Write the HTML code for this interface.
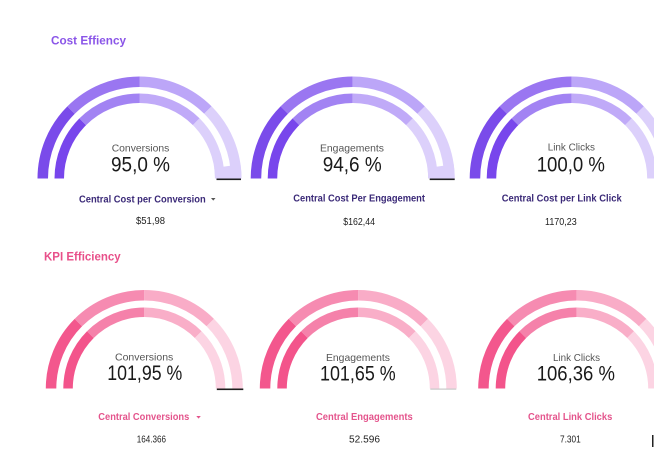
<!DOCTYPE html>
<html>
<head>
<meta charset="utf-8">
<style>
  html,body{margin:0;padding:0;background:#fff;}
  svg{display:block;}
  text{font-family:"Liberation Sans", Arial, sans-serif;}
</style>
</head>
<body>
<svg width="654" height="469" viewBox="0 0 654 469" xmlns="http://www.w3.org/2000/svg">
  <defs>
    <!-- purple outer rm=96.75 -->
    <path id="po1" d="M -96.75 0 A 96.75 96.75 0 0 1 -68.41 -68.41" fill="none"/>
    <path id="po2" d="M -68.41 -68.41 A 96.75 96.75 0 0 1 0 -96.75" fill="none"/>
    <path id="po3" d="M 0 -96.75 A 96.75 96.75 0 0 1 68.41 -68.41" fill="none"/>
    <path id="po4" d="M 68.41 -68.41 A 96.75 96.75 0 0 1 96.75 0" fill="none"/>
    <!-- purple inner rm=80.25 -->
    <path id="pi1" d="M -80.25 0 A 80.25 80.25 0 0 1 -56.75 -56.75" fill="none"/>
    <path id="pi2" d="M -56.75 -56.75 A 80.25 80.25 0 0 1 0 -80.25" fill="none"/>
    <path id="pi3" d="M 0 -80.25 A 80.25 80.25 0 0 1 56.75 -56.75" fill="none"/>
    <path id="pi4" d="M 56.75 -56.75 A 80.25 80.25 0 0 1 80.25 0" fill="none"/>
    <!-- pink outer rm=93.25 -->
    <path id="ko1" d="M -93.25 0 A 93.25 93.25 0 0 1 -65.94 -65.94" fill="none"/>
    <path id="ko2" d="M -65.94 -65.94 A 93.25 93.25 0 0 1 0 -93.25" fill="none"/>
    <path id="ko3" d="M 0 -93.25 A 93.25 93.25 0 0 1 65.94 -65.94" fill="none"/>
    <path id="ko4" d="M 65.94 -65.94 A 93.25 93.25 0 0 1 93.25 0" fill="none"/>
    <!-- pink inner rm=76.25 -->
    <path id="ki1" d="M -76.25 0 A 76.25 76.25 0 0 1 -53.92 -53.92" fill="none"/>
    <path id="ki2" d="M -53.92 -53.92 A 76.25 76.25 0 0 1 0 -76.25" fill="none"/>
    <path id="ki3" d="M 0 -76.25 A 76.25 76.25 0 0 1 53.92 -53.92" fill="none"/>
    <path id="ki4" d="M 53.92 -53.92 A 76.25 76.25 0 0 1 76.25 0" fill="none"/>

    <g id="purpleGauge">
      <use href="#po1" stroke="#7a4bea" stroke-width="10.5"/>
      <use href="#po2" stroke="#9a76f1" stroke-width="10.5"/>
      <use href="#po3" stroke="#bca6f8" stroke-width="10.5"/>
      <use href="#po4" stroke="#dcd0fb" stroke-width="10.5"/>
      <use href="#pi1" stroke="#7846ec" stroke-width="9.5"/>
      <use href="#pi2" stroke="#a283f3" stroke-width="9.5"/>
      <use href="#pi3" stroke="#c0aaf8" stroke-width="9.5"/>
      <use href="#pi4" stroke="#dcd0fb" stroke-width="9.5"/>
    </g>
    <g id="pinkGauge">
      <use href="#ko1" stroke="#f3578d" stroke-width="10.5"/>
      <use href="#ko2" stroke="#f68bb1" stroke-width="10.5"/>
      <use href="#ko3" stroke="#f9acc7" stroke-width="10.5"/>
      <use href="#ko4" stroke="#fcd4e3" stroke-width="10.5"/>
      <use href="#ki1" stroke="#f3548b" stroke-width="9.5"/>
      <use href="#ki2" stroke="#f581aa" stroke-width="9.5"/>
      <use href="#ki3" stroke="#f9aec8" stroke-width="9.5"/>
      <use href="#ki4" stroke="#fcd4e3" stroke-width="9.5"/>
    </g>
    <path id="pfill" d="M 75.5 0 L 102 0 A 102 102 0 0 0 101.0 -14.2 L 74.77 -10.51 A 75.5 75.5 0 0 1 75.5 0 Z"/>
  </defs>

  <!-- ===== Cost Effiency ===== -->
  <text x="51" y="44.5" font-size="12" font-weight="bold" fill="#8a55e8" textLength="75" lengthAdjust="spacingAndGlyphs">Cost Effiency</text>

  <!-- Gauge 1 purple -->
  <g transform="translate(139.5,178.5)">
    <use href="#purpleGauge"/>
    <use href="#pfill" fill="#dcd0fb"/>
    <rect x="77" y="0" width="24.5" height="1.6" fill="#1e1e1e"/>
  </g>
  <text x="111.7" y="151.7" font-size="10.5" fill="#555" textLength="57.6" lengthAdjust="spacingAndGlyphs">Conversions</text>
  <text x="111" y="171.7" font-size="21" fill="#1a1a1a" textLength="59" lengthAdjust="spacingAndGlyphs">95,0 %</text>
  <text x="79" y="202.3" font-size="10.5" font-weight="bold" fill="#3b2a78" textLength="126.7" lengthAdjust="spacingAndGlyphs">Central Cost per Conversion</text>
  <polygon points="211,198 215.5,198 213.25,200.6" fill="#555"/>
  <text x="136" y="224" font-size="10" fill="#222" textLength="29" lengthAdjust="spacingAndGlyphs">$51,98</text>

  <!-- Gauge 2 purple -->
  <g transform="translate(352.7,178.5)">
    <use href="#purpleGauge"/>
    <use href="#pfill" fill="#dcd0fb"/>
    <rect x="77" y="0" width="25" height="1.6" fill="#1e1e1e"/>
  </g>
  <text x="320" y="151.7" font-size="10.5" fill="#555" textLength="64" lengthAdjust="spacingAndGlyphs">Engagements</text>
  <text x="322.7" y="171.7" font-size="21" fill="#1a1a1a" textLength="59" lengthAdjust="spacingAndGlyphs">94,6 %</text>
  <text x="293.3" y="201.7" font-size="10.5" font-weight="bold" fill="#3b2a78" textLength="131.7" lengthAdjust="spacingAndGlyphs">Central Cost Per Engagement</text>
  <text x="343.3" y="225" font-size="10" fill="#222" textLength="31.7" lengthAdjust="spacingAndGlyphs">$162,44</text>

  <!-- Gauge 3 purple -->
  <g transform="translate(571.7,178.5)">
    <use href="#purpleGauge"/>
  </g>
  <text x="547.7" y="150.7" font-size="10.5" fill="#555" textLength="47.3" lengthAdjust="spacingAndGlyphs">Link Clicks</text>
  <text x="536.7" y="171.7" font-size="21" fill="#1a1a1a" textLength="68.3" lengthAdjust="spacingAndGlyphs">100,0 %</text>
  <text x="501.7" y="201.7" font-size="10.5" font-weight="bold" fill="#3b2a78" textLength="120" lengthAdjust="spacingAndGlyphs">Central Cost per Link Click</text>
  <text x="545" y="225" font-size="10" fill="#222" textLength="31.7" lengthAdjust="spacingAndGlyphs">1170,23</text>

  <!-- ===== KPI Efficiency ===== -->
  <text x="44" y="260.5" font-size="12" font-weight="bold" fill="#e8508a" textLength="76.7" lengthAdjust="spacingAndGlyphs">KPI Efficiency</text>

  <!-- Gauge 1 pink -->
  <g transform="translate(144.3,388.5)">
    <use href="#pinkGauge"/>
    <rect x="72.5" y="0" width="26.5" height="1.6" fill="#1e1e1e"/>
  </g>
  <text x="115" y="360.7" font-size="10.5" fill="#555" textLength="58.3" lengthAdjust="spacingAndGlyphs">Conversions</text>
  <text x="107.3" y="380" font-size="21" fill="#1a1a1a" textLength="75" lengthAdjust="spacingAndGlyphs">101,95 %</text>
  <text x="98.3" y="420" font-size="10.5" font-weight="bold" fill="#e4548c" textLength="91" lengthAdjust="spacingAndGlyphs">Central Conversions</text>
  <polygon points="196.3,416 200.8,416 198.55,418.6" fill="#e4548c"/>
  <text x="136.7" y="442.3" font-size="10" fill="#222" textLength="29.3" lengthAdjust="spacingAndGlyphs">164.366</text>

  <!-- Gauge 2 pink -->
  <g transform="translate(358.3,388.5)">
    <use href="#pinkGauge"/>
    <rect x="72" y="0" width="26" height="1.2" fill="#c8c8c8"/>
  </g>
  <text x="326" y="361" font-size="10.5" fill="#555" textLength="64" lengthAdjust="spacingAndGlyphs">Engagements</text>
  <text x="320" y="380.7" font-size="21" fill="#1a1a1a" textLength="75.7" lengthAdjust="spacingAndGlyphs">101,65 %</text>
  <text x="316" y="420" font-size="10.5" font-weight="bold" fill="#e4548c" textLength="96.7" lengthAdjust="spacingAndGlyphs">Central Engagements</text>
  <text x="349" y="442.7" font-size="10" fill="#222" textLength="31" lengthAdjust="spacingAndGlyphs">52.596</text>

  <!-- Gauge 3 pink -->
  <g transform="translate(576.7,388.5)">
    <use href="#pinkGauge"/>
  </g>
  <text x="553" y="361" font-size="10.5" fill="#555" textLength="47" lengthAdjust="spacingAndGlyphs">Link Clicks</text>
  <text x="536.7" y="380.7" font-size="21" fill="#1a1a1a" textLength="78.3" lengthAdjust="spacingAndGlyphs">106,36 %</text>
  <text x="528" y="420" font-size="10.5" font-weight="bold" fill="#e4548c" textLength="84.3" lengthAdjust="spacingAndGlyphs">Central Link Clicks</text>
  <text x="560" y="442.7" font-size="10" fill="#222" textLength="20.7" lengthAdjust="spacingAndGlyphs">7.301</text>

  <rect x="652" y="435" width="1.5" height="12" fill="#222"/>
</svg>
</body>
</html>
